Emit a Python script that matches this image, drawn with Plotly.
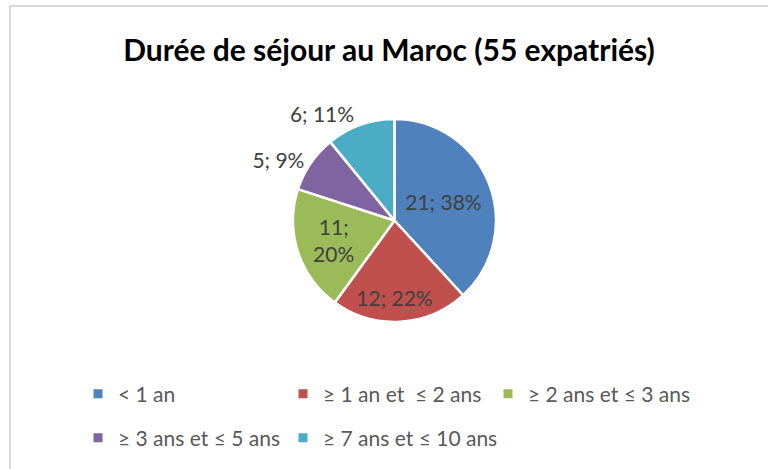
import plotly.graph_objects as go

categories = ["< 1 an", "≥ 1 an et  ≤ 2 ans", "≥ 2 ans et ≤ 3 ans", "≥ 3 ans et ≤ 5 ans", "≥ 7 ans et ≤ 10 ans"]
counts = [21, 12, 11, 5, 6]
colors = ["#4F81BD", "#C0504D", "#9BBB59", "#8064A2", "#4BACC6"]
text_positions = ["inside", "inside", "inside", "outside", "outside"]
title_text = "Durée de séjour au Maroc (55 expatriés)"

# legend layout (two rows, three columns like the original)
legend_cols = [0, 1, 2, 0, 1]
legend_rows = [0, 0, 0, 1, 1]

total = sum(counts)
labels_txt = []
for i, c in enumerate(counts):
    pct = round(100 * c / total)
    sep = ";<br>" if i == 2 else "; "
    labels_txt.append(f"{c}{sep}{pct}%")

FONT = "Lato"
W, H = 768, 469

fig = go.Figure()
fig.add_trace(go.Pie(
    labels=categories,
    values=counts,
    text=labels_txt,
    textinfo="text",
    textposition=text_positions,
    insidetextorientation="horizontal",
    sort=False,
    direction="clockwise",
    rotation=0,
    marker=dict(colors=colors, line=dict(color="white", width=2.5)),
    textfont=dict(family=FONT, size=21, color="#404040"),
    outsidetextfont=dict(family=FONT, size=21, color="#404040"),
    insidetextfont=dict(family=FONT, size=21, color="#404040"),
    domain=dict(x=[0.3815, 0.6458], y=[0.3135, 0.7463]),
    automargin=False,
    showlegend=False,
    hoverinfo="label+value+percent",
))

legend_common = dict(orientation="h", xanchor="left", yanchor="middle", itemwidth=30,
                     font=dict(family=FONT, size=21, color="#595959"),
                     itemclick=False, itemdoubleclick=False, bgcolor="rgba(0,0,0,0)")

layout_legends = {}
for i, (name, col) in enumerate(zip(categories, colors)):
    key = "legend" if i == 0 else f"legend{i + 1}"
    fig.add_trace(go.Scatter(
        x=[None], y=[None], mode="markers", name=name, legend=key,
        marker=dict(symbol="square", size=9, color=col),
        showlegend=True, hoverinfo="skip",
    ))
    lx = 78 + 205 * legend_cols[i]
    ly = 394 + 44 * legend_rows[i]
    layout_legends[key] = dict(x=lx / W, y=1 - ly / H, **legend_common)

fig.update_layout(
    width=W, height=H,
    margin=dict(l=0, r=0, t=0, b=0),
    paper_bgcolor="white",
    plot_bgcolor="white",
    xaxis=dict(visible=False),
    yaxis=dict(visible=False),
    title=dict(text=f"<b>{title_text}</b>", x=389/W, xanchor="center", y=1-50/H, yanchor="middle",
               font=dict(family=FONT, size=30, color="#000000")),
    shapes=[
        dict(type="line", xref="paper", yref="paper", x0=9/W, x1=1, y0=1-6/H, y1=1-6/H,
             line=dict(color="#D9D9D9", width=2)),
        dict(type="line", xref="paper", yref="paper", x0=10/W, x1=10/W, y0=0, y1=1-6/H,
             line=dict(color="#D9D9D9", width=2)),
    ],
    **layout_legends,
)

fig.write_html("out.html", config={"displayModeBar": False},
               post_script="document.body.style.margin='0';")
